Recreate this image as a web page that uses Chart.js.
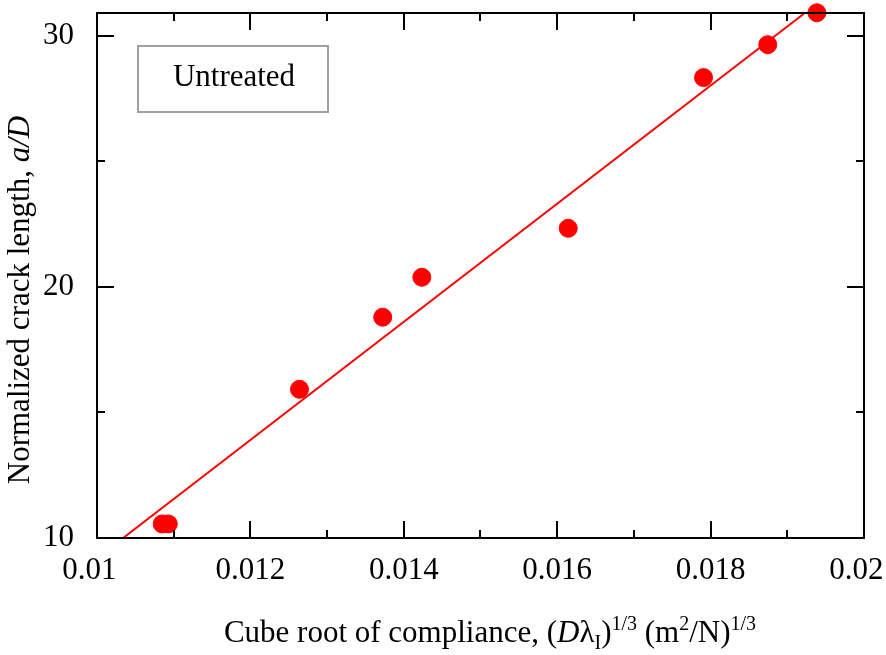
<!DOCTYPE html>
<html>
<head>
<meta charset="utf-8">
<script src="https://cdn.jsdelivr.net/npm/chart.js@4/dist/chart.umd.min.js"></script>
<style>
  html, body { margin: 0; padding: 0; background: #fff; }
  #wrap { width: 886px; height: 655px; }
</style>
</head>
<body>
<div id="wrap"><canvas id="chart" width="886" height="655"></canvas></div>
<script>
// measured points (compliance^(1/3), a/D)
const complianceX = [0.01085, 0.01093, 0.01264, 0.013725, 0.014235, 0.016144, 0.017908, 0.018745, 0.019386];
const crackLengthY = [10.56, 10.56, 15.92, 18.79, 20.38, 22.33, 28.33, 29.64, 30.91];

// fitted line
const fitX = [0.01034, 0.019216];
const fitY = [10.0, 30.87];

const xTicks = [0.01, 0.012, 0.014, 0.016, 0.018, 0.02];
const xTickLabels = ["0.01", "0.012", "0.014", "0.016", "0.018", "0.02"];
const xMinorTicks = [0.011, 0.013, 0.015, 0.017, 0.019];
const yTicks = [10, 20, 30];
const yTickLabels = ["10", "20", "30"];
const yMinorTicks = [15, 25];

const legendText = "Untreated";
const FONT = "'Liberation Serif', 'Times New Roman', serif";

function toPoints(xs, ys) {
    return xs.map(function(x, i) { return { x: x, y: ys[i] }; });
}

// draw a string made of styled pieces (italic, sub, sup)
function drawRich(ctx, parts, cx, cy, size) {
    function fontFor(p) {
        const s = p.shift ? Math.round(size * 0.64) : size;
        return (p.italic ? "italic " : "") + s + "px " + FONT;
    }
    let total = 0;
    parts.forEach(function(p) {
        ctx.font = fontFor(p);
        total += ctx.measureText(p.t).width;
    });
    let x = cx - total / 2;
    ctx.textBaseline = "alphabetic";
    ctx.textAlign = "left";
    parts.forEach(function(p) {
        ctx.font = fontFor(p);
        let dy = 0;
        if (p.shift === "sup") dy = -size * 0.4;
        if (p.shift === "sub") dy = size * 0.22;
        ctx.fillText(p.t, x, cy + dy);
        x += ctx.measureText(p.t).width;
    });
}

const decorations = {
    id: "decorations",
    afterDraw: function(chart) {
        const ctx = chart.ctx;
        const a = chart.chartArea;
        const xs = chart.scales.x;
        const ys = chart.scales.y;
        ctx.save();
        ctx.strokeStyle = "#000";
        ctx.lineWidth = 2;

        // frame
        ctx.strokeRect(a.left, a.top, a.right - a.left, a.bottom - a.top);

        // inward ticks on all four sides
        function xTick(v, len) {
            const px = Math.round(xs.getPixelForValue(v));
            ctx.beginPath();
            ctx.moveTo(px, a.bottom); ctx.lineTo(px, a.bottom - len);
            ctx.moveTo(px, a.top); ctx.lineTo(px, a.top + len);
            ctx.stroke();
        }
        function yTick(v, len) {
            const py = Math.round(ys.getPixelForValue(v));
            ctx.beginPath();
            ctx.moveTo(a.left, py); ctx.lineTo(a.left + len, py);
            ctx.moveTo(a.right, py); ctx.lineTo(a.right - len, py);
            ctx.stroke();
        }
        xTicks.forEach(function(v) { xTick(v, 17); });
        xMinorTicks.forEach(function(v) { xTick(v, 8); });
        yTicks.forEach(function(v) { yTick(v, 17); });
        yMinorTicks.forEach(function(v) { yTick(v, 8); });

        // legend box
        ctx.strokeStyle = "#a0a0a0";
        ctx.lineWidth = 2;
        ctx.strokeRect(a.left + 41, a.top + 33, 190, 66);
        ctx.fillStyle = "#000";
        ctx.font = "31px " + FONT;
        ctx.textAlign = "center";
        ctx.textBaseline = "middle";
        ctx.fillText(legendText, a.left + 137, a.top + 65);

        // x axis title
        drawRich(ctx, [
            { t: "Cube root of compliance, (" },
            { t: "D", italic: true },
            { t: "\u03bb" },
            { t: "I", shift: "sub" },
            { t: ")" },
            { t: "1/3", shift: "sup" },
            { t: " (m" },
            { t: "2", shift: "sup" },
            { t: "/N)" },
            { t: "1/3", shift: "sup" }
        ], 490, 642, 31);

        // y axis title
        ctx.translate(29, 300);
        ctx.rotate(-Math.PI / 2);
        drawRich(ctx, [
            { t: "Normalized crack length, " },
            { t: "a/D", italic: true }
        ], 0, 0, 31);
        ctx.restore();
    }
};

// drop the label overhang padding so the plot box sits where the picture has it
function noOverhang(scale) {
    scale.paddingTop = 0;
    scale.paddingBottom = 0;
    scale.paddingLeft = 0;
    scale.paddingRight = 0;
}

const chart = new Chart(document.getElementById("chart"), {
    type: "scatter",
    data: {
        datasets: [
            {
                label: "fit",
                data: toPoints(fitX, fitY),
                showLine: true,
                borderColor: "#ff0000",
                borderWidth: 2,
                pointRadius: 0,
                fill: false
            },
            {
                label: legendText,
                data: toPoints(complianceX, crackLengthY),
                backgroundColor: "#ff0000",
                borderColor: "#ff0000",
                pointRadius: 9,
                pointHoverRadius: 9,
                clip: false
            }
        ]
    },
    options: {
        responsive: false,
        animation: false,
        layout: { padding: { top: 13, right: 22, left: 0, bottom: 0 } },
        plugins: {
            legend: { display: false },
            tooltip: { enabled: false }
        },
        scales: {
            x: {
                type: "linear",
                min: 0.01,
                max: 0.02,
                grid: { display: false },
                border: { display: false },
                afterBuildTicks: function(scale) {
                    scale.ticks = xTicks.map(function(v) { return { value: v }; });
                },
                afterFit: function(scale) { scale.height = 117; noOverhang(scale); },
                ticks: {
                    maxRotation: 0,
                    autoSkip: false,
                    padding: 6,
                    color: "#000",
                    font: { family: FONT, size: 31 },
                    callback: function(value, index) {
                        // end labels sit a little left of their ticks in the original
                        if (index === 0) return xTickLabels[index] + "  ";
                        if (index === xTickLabels.length - 1) return xTickLabels[index] + "  ";
                        return xTickLabels[index];
                    }
                }
            },
            y: {
                type: "linear",
                min: 10,
                max: 30.9,
                grid: { display: false },
                border: { display: false },
                afterBuildTicks: function(scale) {
                    scale.ticks = yTicks.map(function(v) { return { value: v }; });
                },
                afterFit: function(scale) { scale.width = 97; noOverhang(scale); },
                ticks: {
                    autoSkip: false,
                    padding: 15,
                    color: "#000",
                    font: { family: FONT, size: 31 },
                    callback: function(value, index) { return yTickLabels[index]; }
                }
            }
        }
    },
    plugins: [decorations]
});
</script>
</body>
</html>
